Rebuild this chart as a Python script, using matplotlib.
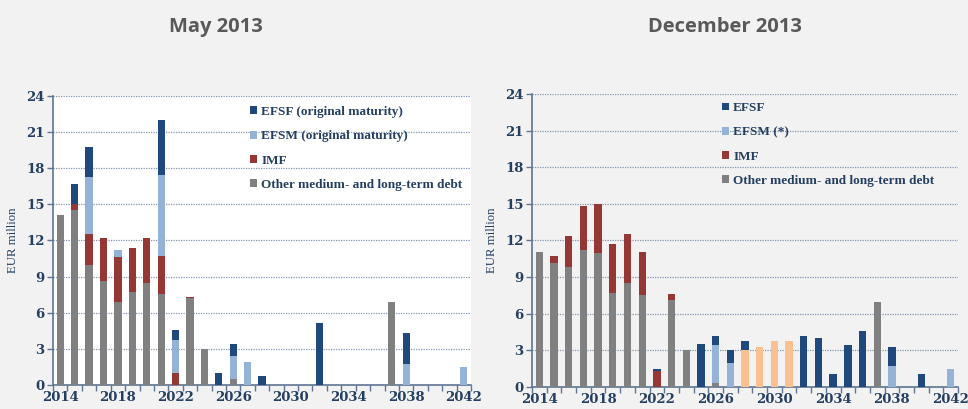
import matplotlib
matplotlib.use("Agg")
import matplotlib.pyplot as plt
import numpy as np
from matplotlib.patches import Patch

years = list(range(2014, 2043))

# May 2013
may_other = [14.1, 14.5, 10.0, 8.6, 6.9, 7.75, 8.5, 7.55, 0, 7.2, 3.0, 0, 0.5, 0, 0,
             0, 0, 0, 0, 0, 0, 0, 0, 6.9, 0, 0, 0, 0, 0]
may_imf = [0, 0.5, 2.55, 3.6, 3.7, 3.65, 3.7, 3.15, 1.0, 0.1, 0, 0, 0, 0, 0,
           0, 0, 0, 0, 0, 0, 0, 0, 0, 0, 0, 0, 0, 0]
may_efsm = [0, 0, 4.75, 0, 0.65, 0, 0, 6.7, 2.7, 0, 0, 0, 1.9, 1.95, 0,
            0, 0, 0, 0, 0, 0, 0, 0, 0, 1.75, 0, 0, 0, 1.5]
may_efsf = [0, 1.7, 2.5, 0, 0, 0, 0, 4.6, 0.85, 0, 0, 1.0, 1.0, 0, 0.78,
            0, 0, 0, 5.15, 0, 0, 0, 0, 0, 2.55, 0, 0, 0, 0]

# December 2013
dec_other = [11.05, 10.15, 9.85, 11.25, 11.0, 7.7, 8.5, 7.55, 0, 7.15, 3.0, 0, 0.35, 0, 0,
             0, 0, 0, 0, 0, 0, 0, 0, 7.0, 0, 0, 0, 0, 0]
dec_imf = [0, 0.55, 2.55, 3.55, 4.0, 4.0, 4.0, 3.5, 1.35, 0.5, 0, 0, 0, 0, 0,
           0, 0, 0, 0, 0, 0, 0, 0, 0, 0, 0, 0, 0, 0]
dec_efsm = [0, 0, 0, 0, 0, 0, 0, 0, 0, 0, 0, 0, 3.1, 2.0, 0,
            0, 0, 0, 0, 0, 0, 0, 0, 0, 1.75, 0, 0, 0, 1.45]
dec_efsm_other = [0, 0, 0, 0, 0, 0, 0, 0, 0, 0, 0, 0, 0, 0, 3.0,
                  3.27, 3.75, 3.75, 0, 0, 0, 0, 0, 0, 0, 0, 0, 0, 0]
dec_efsf = [0, 0, 0, 0, 0, 0, 0, 0, 0.1, 0, 0, 3.55, 0.75, 1.0, 0.8,
            0, 0, 0, 4.2, 4.05, 1.05, 3.4, 4.55, 0, 1.5, 0, 1.1, 0, 0]

may_labels = ["EFSF (original maturity)", "EFSM (original maturity)", "IMF",
              "Other medium- and long-term debt"]
dec_labels = ["EFSF", "EFSM (*)", "IMF", "Other medium- and long-term debt"]
titles = ["May 2013", "December 2013"]
xlabels = [2014, 2018, 2022, 2026, 2030, 2034, 2038, 2042]
yticks = list(range(0, 25, 3))

C_EFSF = "#1F497D"
C_EFSM = "#95B3D7"
C_IMF = "#953735"
C_OTH = "#808080"
C_ORG = "#FAC090"
NAVY = "#243F60"
BG = "#F2F2F2"

fig = plt.figure(figsize=(9.68, 4.09), dpi=100)
fig.patch.set_facecolor(BG)

ax1 = fig.add_axes([0.0548, 0.0587, 0.4318, 0.7066])
ax2 = fig.add_axes([0.5496, 0.0538, 0.4401, 0.7164])

serif = "DejaVu Serif"
legserif = "Liberation Serif"


def draw(ax, series, labels, facecolor, legend_pos, title, title_x):
    x = np.array(years)
    bottom = np.zeros(len(years))
    for vals, col in series:
        v = np.array(vals, dtype=float)
        ax.bar(x, v, width=0.5, bottom=bottom, color=col, edgecolor="none", zorder=3)
        bottom += v
    ax.set_facecolor(facecolor)
    ax.set_xlim(2013.5, 2042.5)
    ax.set_ylim(0, 24)
    ax.set_yticks(yticks)
    ax.set_yticklabels([str(t) for t in yticks], fontfamily=serif, fontweight="bold",
                       fontsize=9.5, color=NAVY)
    ax.yaxis.grid(True, linestyle=(0, (1, 1)), color="#8496B0", linewidth=0.9, zorder=0)
    ax.set_axisbelow(True)
    # x ticks at category boundaries, labels at centers
    ax.set_xticks(np.arange(2013.5, 2043.0, 1.0))
    ax.set_xticklabels([])
    ax.set_xticks(xlabels, minor=True)
    ax.set_xticklabels([str(y) for y in xlabels], minor=True, fontfamily=serif,
                       fontweight="bold", fontsize=9.5, color=NAVY)
    ax.tick_params(axis="x", which="major", length=4, width=1, color="#5E7594", direction="out")
    ax.tick_params(axis="x", which="minor", length=0, pad=4)
    ax.tick_params(axis="y", length=4, width=1, color="#5E7594", pad=2)
    for s in ["top", "right"]:
        ax.spines[s].set_visible(False)
    for s in ["left", "bottom"]:
        ax.spines[s].set_color("#5E7594")
        ax.spines[s].set_linewidth(1.2)
    ax.set_ylabel("EUR million", fontfamily=legserif, fontsize=9.2, color=NAVY, labelpad=5)
    handles = [Patch(facecolor=c, edgecolor="none") for c in [C_EFSF, C_EFSM, C_IMF, C_OTH]]
    leg = ax.legend(handles, labels, loc="upper left", bbox_to_anchor=legend_pos,
                    frameon=False, prop={"family": legserif, "weight": "bold", "size": 9.5},
                    handlelength=0.55, handleheight=0.55, handletextpad=0.3,
                    labelspacing=0.93, borderaxespad=0, borderpad=0)
    for t in leg.get_texts():
        t.set_color(NAVY)
    fig.text(title_x, 0.935, title, ha="center", va="center", fontsize=14.5,
             fontweight="bold", color="#595959", fontfamily="Open Sans")


draw(ax1, [(may_other, C_OTH), (may_imf, C_IMF), (may_efsm, C_EFSM), (may_efsf, C_EFSF)],
     may_labels, "white", (0.471, 0.965), titles[0], 0.223)
draw(ax2, [(dec_other, C_OTH), (dec_imf, C_IMF), (dec_efsm, C_EFSM),
           (dec_efsm_other, C_ORG), (dec_efsf, C_EFSF)],
     dec_labels, BG, (0.446, 0.972), titles[1], 0.749)

fig.savefig("out.png", dpi=100, facecolor=BG)
